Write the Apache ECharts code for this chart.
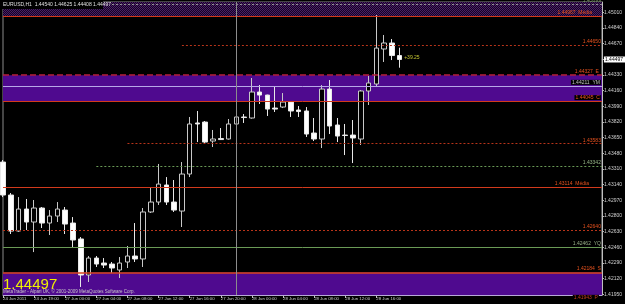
<!DOCTYPE html>
<html><head><meta charset="utf-8">
<script src="https://cdn.jsdelivr.net/npm/echarts@6/dist/echarts.min.js"></script>
<style>html,body{margin:0;padding:0;background:#000;}#c{width:625px;height:304px;}</style>
</head><body><div id="c"></div>
<script>
// ---- data ----
const times = [
 '24 Jun 15:00','24 Jun 16:00','24 Jun 17:00','24 Jun 18:00','24 Jun 19:00','24 Jun 20:00','24 Jun 21:00','24 Jun 22:00',
 '27 Jun 00:00','27 Jun 01:00','27 Jun 02:00','27 Jun 03:00','27 Jun 04:00','27 Jun 05:00','27 Jun 06:00','27 Jun 07:00',
 '27 Jun 08:00','27 Jun 09:00','27 Jun 10:00','27 Jun 11:00','27 Jun 12:00','27 Jun 13:00','27 Jun 14:00','27 Jun 15:00',
 '27 Jun 16:00','27 Jun 17:00','27 Jun 18:00','27 Jun 19:00','27 Jun 20:00','27 Jun 21:00','27 Jun 22:00','27 Jun 23:00',
 '28 Jun 00:00','28 Jun 01:00','28 Jun 02:00','28 Jun 03:00','28 Jun 04:00','28 Jun 05:00','28 Jun 06:00','28 Jun 07:00',
 '28 Jun 08:00','28 Jun 09:00','28 Jun 10:00','28 Jun 11:00','28 Jun 12:00','28 Jun 13:00','28 Jun 14:00','28 Jun 15:00',
 '28 Jun 16:00','28 Jun 17:00','28 Jun 18:00','28 Jun 19:00'
];
const opens = [1.43384,1.43026,1.42635,1.42874,1.42733,1.42885,1.42722,1.42798,1.42863,1.42722,
 1.42549,1.42158,1.42342,1.42288,1.42277,1.42212,1.42299,1.42364,1.42332,1.42842,
 1.42950,1.43135,1.42950,1.42852,1.43254,1.43808,1.43818,1.43612,1.43639,1.43634,
 1.43797,1.43873,1.43862,1.44144,1.44111,1.43970,1.43981,1.44035,1.43949,1.43938,
 1.43699,1.43634,1.44176,1.43786,1.43677,1.43677,1.43634,1.44155,1.44231,1.44611,
 1.44676,1.44540];
const closes = [1.43026,1.42635,1.42874,1.42733,1.42885,1.42722,1.42798,1.42874,1.42711,1.42538,
 1.42158,1.42342,1.42277,1.42266,1.42234,1.42288,1.42364,1.42332,1.42842,1.42950,
 1.43145,1.42950,1.42863,1.43254,1.43797,1.43797,1.43601,1.43634,1.43628,1.43797,
 1.43873,1.43867,1.44144,1.44111,1.43959,1.43959,1.44035,1.43938,1.43932,1.43688,
 1.43634,1.44176,1.43775,1.43666,1.43672,1.43645,1.44155,1.44242,1.44621,1.44676,
 1.44540,1.44497];
const lows = [1.43004,1.42603,1.42625,1.42646,1.42407,1.42668,1.42592,1.42733,1.42603,1.42462,
 1.42028,1.42082,1.42245,1.42234,1.42180,1.42125,1.42234,1.42299,1.42245,1.42831,
 1.42918,1.42918,1.42842,1.42679,1.43221,1.43601,1.43590,1.43547,1.43623,1.43628,
 1.43786,1.43808,1.43855,1.44014,1.43884,1.43927,1.43970,1.43873,1.43873,1.43656,
 1.43612,1.43536,1.43688,1.43601,1.43460,1.43373,1.43569,1.44003,1.44198,1.44470,
 1.44491,1.44408];
const highs = [1.43406,1.43048,1.43004,1.42983,1.42972,1.42896,1.42863,1.42950,1.42896,1.42787,
 1.42570,1.42364,1.42364,1.42342,1.42299,1.42353,1.42473,1.42722,1.42885,1.43102,
 1.43363,1.43221,1.43189,1.43384,1.43873,1.43938,1.43829,1.43732,1.43753,1.43851,
 1.43880,1.43905,1.44296,1.44220,1.44115,1.44209,1.44133,1.44046,1.43992,1.43981,
 1.43862,1.44220,1.44274,1.43862,1.43797,1.43840,1.44166,1.44318,1.44980,1.44763,
 1.44719,1.44625];
const timeLabels = ['24 Jun 2011','24 Jun 19:00','27 Jun 00:00','27 Jun 04:00','27 Jun 08:00','27 Jun 12:00',
 '27 Jun 16:00','27 Jun 20:00','28 Jun 00:00','28 Jun 04:00','28 Jun 08:00','28 Jun 12:00','28 Jun 16:00'];
const priceTicks = [1.45010,1.44840,1.44670,1.44500,1.44330,1.44160,1.43990,1.43820,1.43650,1.43480,
 1.43310,1.43140,1.42970,1.42800,1.42630,1.42460,1.42290,1.42120,1.41950];
const levelValues = [1.44967,1.44327,1.44211,1.44045,1.43114,1.42640,1.42462,1.42184,1.41943];
const levelTexts = ['1.44967  Média','1.44327  E','1.44211  YM','1.44045  C','1.43114  Média','1.42640','1.42462  YQ','1.42184  S','1.41943  P'];
const partialValues = [1.45099,1.44650,1.43583,1.43342];
const partialStarts = ['27 Jun 06:00','27 Jun 15:00','27 Jun 08:00','27 Jun 04:00'];
const vLineTime = '27 Jun 22:00';
const lastPrice = 1.44497;
const titleText = 'EURUSD,H1  1.44540 1.44625 1.44408 1.44497';
const pipsText = '+39.25';
const copyText = 'MetaTrader - Alpari UK, © 2001-2009 MetaQuotes Software Corp.';
const yMin = 1.41941, yMax = 1.45121;

// ---- build ----
const futureCats = [];
for (let k = 0; k < 26; k++) futureCats.push('f' + k);
const cats = times.concat(futureCats);
const lastCat = cats[cats.length - 1];
const candles = opens.map((o, i) => [o, closes[i], lows[i], highs[i]]);

const FONT = 'Liberation Sans';
const lvlStyle = [
  {c:'#d23a1c', t:'solid', w:1, lc:'#e8521e', d:[10,1]},
  {c:'#b82040', t:[6,3], w:1.5, lc:'#e8521e', d:[3,1]},
  {c:'#b8a8e8', t:'solid', w:1, lc:'#c0c0c0', d:[1,1], bg:'#000'},
  {c:'#d23a1c', t:'solid', w:1, lc:'#e8521e', d:[1,1], bg:'#000'},
  {c:'#d23a1c', t:'solid', w:1, lc:'#e8521e', d:[13,1]},
  {c:'#b8341a', t:[2,2], w:1, lc:'#e8521e', d:[1,1]},
  {c:'#6a9a56', t:'solid', w:1, lc:'#98b088', d:[1,1]},
  {c:'#d8461c', t:'solid', w:1.5, lc:'#e8521e', d:[1,1]},
  {c:'#b8a8d8', t:'solid', w:1, lc:'#c04020', d:[3,-5], bg:'#000'}
];
const partStyle = [
  {c:'#9a9a9a', t:[2,2], lc:'#7a9a6a'},
  {c:'#b8341a', t:[2,2], lc:'#e8521e'},
  {c:'#b8341a', t:[2,2], lc:'#e8521e'},
  {c:'#6a9a56', t:[2,2], lc:'#98b888'}
];

const mlData = [];
levelValues.forEach((v, i) => {
  const s = lvlStyle[i];
  mlData.push({
    yAxis: v,
    lineStyle: {color: s.c, type: s.t, width: s.w},
    label: {show: true, position: 'insideEndTop', formatter: levelTexts[i], color: s.lc, fontSize: 5,
            fontFamily: FONT, distance: s.d, backgroundColor: s.bg || 'transparent', padding: s.bg ? [0,1] : 0}
  });
});
partialValues.forEach((v, i) => {
  const s = partStyle[i];
  mlData.push([
    {coord: [partialStarts[i], v], lineStyle: {color: s.c, type: s.t, width: 1},
     label: {show: true, position: 'insideEndTop', formatter: v.toFixed(5), color: s.lc, fontSize: 5, fontFamily: FONT, distance: [1,1]}},
    {coord: [lastCat, v]}
  ]);
});
mlData.push({xAxis: vLineTime, lineStyle: {color: '#8c8c8c', type: 'solid', width: 1}, label: {show: false}});

// checker pattern for the top band
const pc = document.createElement('canvas');
pc.width = 2; pc.height = 2;
const pctx = pc.getContext('2d');
pctx.fillStyle = '#140820'; pctx.fillRect(0,0,2,2);
pctx.fillStyle = '#4a1a6a'; pctx.fillRect(0,0,1,1); pctx.fillRect(1,1,1,1);

const chart = echarts.init(document.getElementById('c'), null, {renderer: 'canvas'});
chart.setOption({
  backgroundColor: '#000',
  animation: false,
  grid: {left: 1.2, right: 19, top: 2, bottom: 9, show: true, borderColor: '#8a8a8a', borderWidth: 1, backgroundColor: '#000'},
  xAxis: {
    type: 'category', data: cats, boundaryGap: false,
    axisLine: {show: true, lineStyle: {color: '#a898c8', width: 1}},
    axisTick: {show: true, interval: (i) => i % 4 === 0 && i <= 48, length: 3, lineStyle: {color: '#c0c0c0'}},
    axisLabel: {interval: (i) => i % 4 === 0 && i <= 48, formatter: (v, i) => timeLabels[i / 4] || '',
                align: 'left', fontSize: 4.3, color: '#d0d0d0', margin: 2, fontFamily: FONT},
    splitLine: {show: false}
  },
  yAxis: {
    type: 'value', position: 'right', min: yMin, max: yMax,
    axisLine: {show: true, lineStyle: {color: '#c0c0c0'}},
    axisTick: {show: true, length: 2, customValues: priceTicks, lineStyle: {color: '#c0c0c0'}},
    axisLabel: {customValues: priceTicks, formatter: (v) => v.toFixed(5), fontSize: 5, color: '#d0d0d0', margin: 2, fontFamily: FONT},
    splitLine: {show: false}
  },
  series: [
    {
      type: 'line', data: [], z: 1, silent: true,
      markArea: {
        silent: true,
        data: [
          [{yAxis: levelValues[0], itemStyle: {color: {image: pc, repeat: 'repeat'}}}, {yAxis: yMax}],
          [{yAxis: levelValues[1], itemStyle: {color: '#4f0a8f'}}, {yAxis: levelValues[3]}],
          [{yAxis: levelValues[7], itemStyle: {color: '#4f0a8f'}}, {yAxis: yMin}]
        ]
      },
      markLine: {silent: true, precision: 5, symbol: ['none','none'], data: mlData}
    },
    {
      type: 'candlestick', data: candles, z: 3, barWidth: 5, clip: false,
      itemStyle: {color: '#000', color0: '#fff', borderColor: '#c8c8c8', borderColor0: '#e8e8e8', borderWidth: 1},
      markPoint: {
        silent: true,
        data: [{coord: [times[times.length - 1], 1.44516], symbol: 'circle', symbolSize: 1, itemStyle: {color: 'rgba(0,0,0,0)'},
                label: {show: true, position: 'right', distance: 4, formatter: pipsText, color: '#c8c832', fontSize: 5, fontFamily: FONT}}]
      }
    },
    {
      type: 'line', data: [], z: 10, silent: true,
      markLine: {
        silent: true, precision: 5, symbol: ['none','none'],
        data: [{yAxis: lastPrice, lineStyle: {color: 'rgba(0,0,0,0)', width: 0},
                label: {show: true, position: 'end', formatter: lastPrice.toFixed(5), backgroundColor: '#ffffff', color: '#000000',
                        fontSize: 5, fontFamily: FONT, padding: [1,2,0,1], distance: 2}}]
      }
    }
  ],
  graphic: [
    {type: 'rect', shape: {x: 1, y: 1, width: 102, height: 8}, style: {fill: '#000'}, z: 100},
    {type: 'text', x: 3, y: 5, style: {text: titleText, fill: '#e0e0e0', font: '5px "Liberation Sans"', verticalAlign: 'middle'}, z: 101},
    {type: 'text', x: 3, y: 277, style: {text: lastPrice.toFixed(5), fill: '#f0f000', font: '15px "Liberation Sans"', verticalAlign: 'top'}, z: 100},
    {type: 'text', x: 3, y: 292, style: {text: copyText, fill: '#c8c8c8', font: '4.5px "Liberation Sans"', verticalAlign: 'middle'}, z: 100}
  ]
});
</script></body></html>
